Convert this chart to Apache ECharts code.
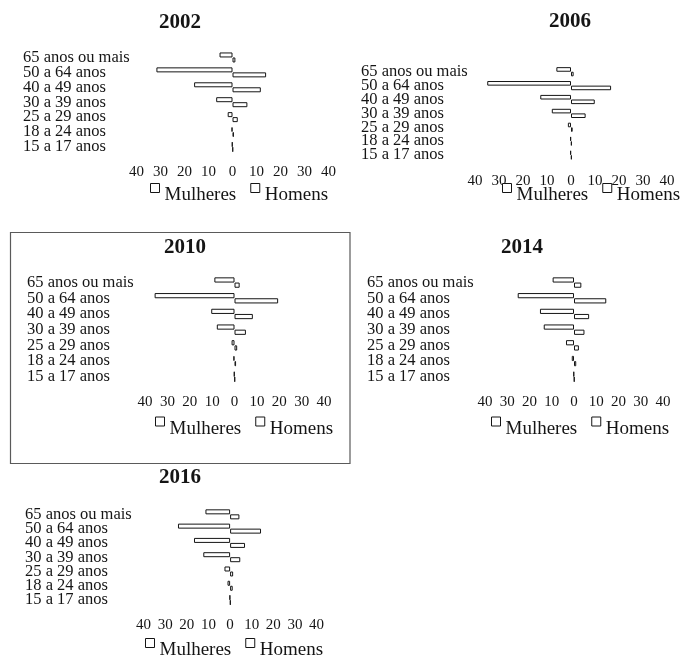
<!DOCTYPE html>
<html>
<head>
<meta charset="utf-8">
<script src="https://cdn.jsdelivr.net/npm/echarts@6/dist/echarts.min.js"></script>
<style>
  html, body { margin: 0; padding: 0; background: #fff; }
  #chart { width: 681px; height: 657px; }
</style>
</head>
<body>
<div id="chart"></div>
<script>
// Age groups, listed from the top row of each pyramid to the bottom row
const categories = ['65 anos ou mais', '50 a 64 anos', '40 a 49 anos', '30 a 39 anos', '25 a 29 anos', '18 a 24 anos', '15 a 17 anos'];

// Share (%) per age group, women and men
const mulheres2002 = [5.4, 31.7, 16.0, 6.8, 2.0, 0.4, 0.2];
const homens2002   = [1.2, 14.0, 11.8, 6.2, 2.2, 0.6, 0.2];
const mulheres2006 = [6.1, 34.9, 12.8, 8.0, 1.3, 0.3, 0.3];
const homens2006   = [1.1, 16.7, 9.9, 6.1, 0.7, 0.3, 0.3];
const mulheres2010 = [9.0, 35.7, 10.4, 7.9, 1.3, 0.5, 0.2];
const homens2010   = [2.3, 19.5, 8.2, 5.1, 1.2, 0.7, 0.2];
const mulheres2014 = [9.6, 25.3, 15.3, 13.6, 3.6, 1.0, 0.2];
const homens2014   = [3.3, 14.5, 6.8, 4.7, 2.2, 1.0, 0.2];
const mulheres2016 = [11.4, 24.1, 16.7, 12.4, 2.6, 1.2, 0.2];
const homens2016   = [4.3, 14.3, 6.9, 4.7, 1.4, 1.2, 0.2];

const years = ['2002', '2006', '2010', '2014', '2016'];
const seriesNames = ['Mulheres', 'Homens'];
const axisMin = -40, axisMax = 40, axisStep = 10;

const FONT = "'Liberation Serif', 'Times New Roman', serif";
const INK = '#151515';

// Placement of each small pyramid on the page
const panels = [
  { women: mulheres2002, men: homens2002, title: [159, 12], grid: { left: 136.5, top: 50, width: 192, height: 104.4 }, labelMargin: 113.5, legend: [150, 183], barWidth: 5, tickMargin: 10 },
  { women: mulheres2006, men: homens2006, title: [549, 11], grid: { left: 475, top: 64.8, width: 192, height: 97.2 }, labelMargin: 114, legend: [502, 183], barWidth: 4.6, tickMargin: 12 },
  { women: mulheres2010, men: homens2010, title: [164, 237], grid: { left: 145, top: 274.7, width: 179, height: 109.9 }, labelMargin: 118, legend: [155, 416.5], barWidth: 5.2, tickMargin: 10 },
  { women: mulheres2014, men: homens2014, title: [501, 237], grid: { left: 485, top: 274.7, width: 178, height: 109.9 }, labelMargin: 118, legend: [491, 416.5], barWidth: 5.2, tickMargin: 10 },
  { women: mulheres2016, men: homens2016, title: [159, 467], grid: { left: 143.6, top: 507.2, width: 173, height: 100 }, labelMargin: 118.6, legend: [145, 638], barWidth: 5, tickMargin: 10 }
];

const barStyle = { color: '#ffffff', borderColor: INK, borderWidth: 1 };

// Legend key: an open square sitting at the top of a taller slot, so the name hangs below it
const keyIcon = 'path://M0,0H9V9H0ZM0,24';

const option = {
  animation: false,
  backgroundColor: '#ffffff',
  title: [], grid: [], xAxis: [], yAxis: [], legend: [], series: [],
  graphic: [{
    // frame around the 2010 pyramid
    type: 'rect',
    shape: { x: 10.5, y: 232.5, width: 339.5, height: 231 },
    style: { fill: 'none', stroke: '#5a5a5a', lineWidth: 1.2 },
    silent: true
  }]
};

panels.forEach((p, i) => {
  option.title.push({
    text: years[i], left: p.title[0], top: p.title[1], padding: 0,
    textStyle: { fontFamily: FONT, fontSize: 21, fontWeight: 'bold', color: INK }
  });
  option.grid.push(Object.assign({ containLabel: false }, p.grid));
  option.xAxis.push({
    gridIndex: i, type: 'value', min: axisMin, max: axisMax, interval: axisStep,
    axisLine: { show: false }, axisTick: { show: false }, splitLine: { show: false },
    axisLabel: { formatter: v => String(Math.abs(v)), fontFamily: FONT, fontSize: 15, color: INK, margin: p.tickMargin }
  });
  option.yAxis.push({
    gridIndex: i, type: 'category', data: categories, inverse: true,
    axisLine: { show: false }, axisTick: { show: false }, splitLine: { show: false },
    axisLabel: { interval: 0, align: 'left', margin: p.labelMargin, fontFamily: FONT, fontSize: 16.5, color: INK }
  });
  option.legend.push({
    data: seriesNames, left: p.legend[0], top: p.legend[1], width: 260, padding: 0,
    itemWidth: 9, itemHeight: 24, itemGap: 14, icon: keyIcon, selectedMode: false,
    itemStyle: { color: '#ffffff', borderColor: INK, borderWidth: 1 },
    textStyle: { fontFamily: FONT, fontSize: 19, color: INK }
  });
  option.series.push({
    type: 'bar', name: seriesNames[0], xAxisIndex: i, yAxisIndex: i,
    data: p.women.map(v => -v), barWidth: p.barWidth, barGap: '0%',
    itemStyle: barStyle, silent: true
  });
  option.series.push({
    type: 'bar', name: seriesNames[1], xAxisIndex: i, yAxisIndex: i,
    data: p.men, barWidth: p.barWidth, barGap: '0%',
    itemStyle: barStyle, silent: true
  });
});

const chart = echarts.init(document.getElementById('chart'), null, { renderer: 'canvas' });
chart.setOption(option);
</script>
</body>
</html>
